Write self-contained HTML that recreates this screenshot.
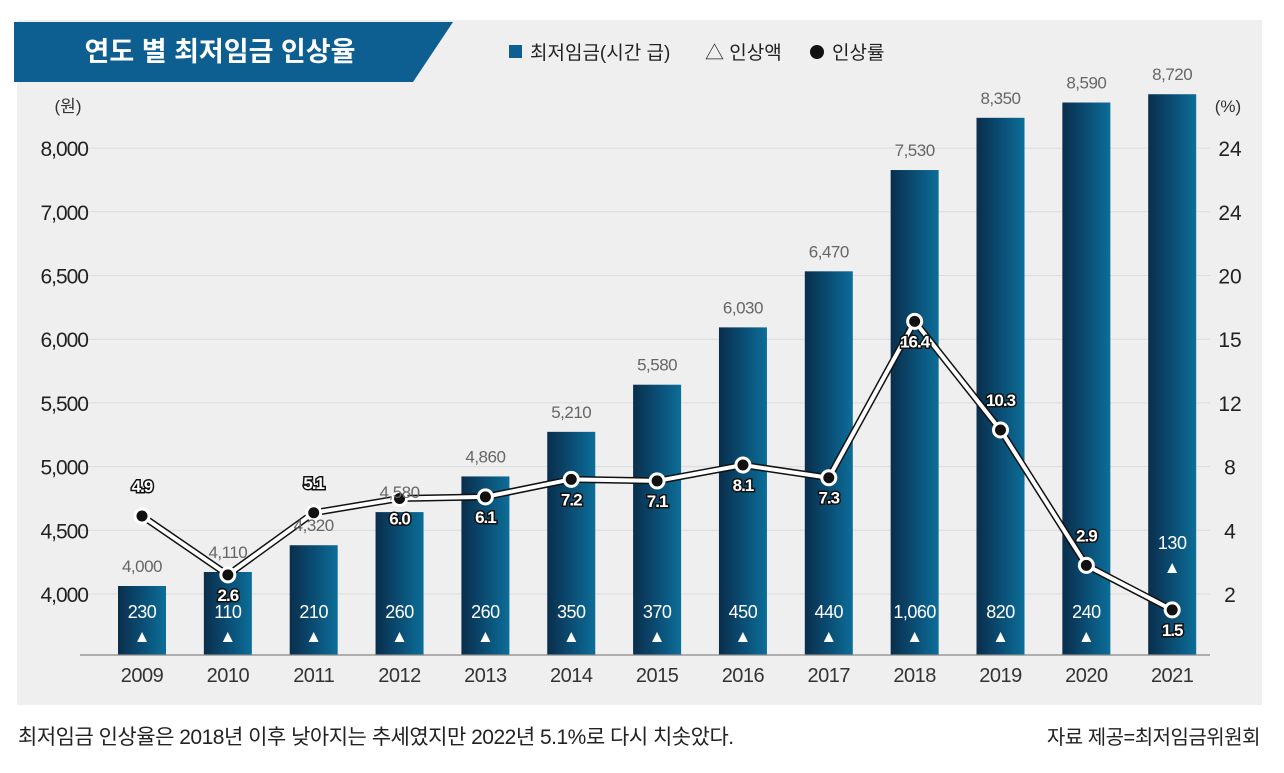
<!DOCTYPE html>
<html><head><meta charset="utf-8">
<style>
body{margin:0;width:1284px;height:773px;background:#fff;overflow:hidden;font-family:"Liberation Sans","Noto Sans CJK KR",sans-serif;}
svg{position:absolute;left:0;top:0}
text{font-family:"Liberation Sans","Noto Sans CJK KR",sans-serif}
</style></head><body>
<svg width="1284" height="773">
<defs>
<linearGradient id="bg" x1="0" x2="1" y1="0" y2="0"><stop offset="0" stop-color="#0a2e4c"/><stop offset="0.5" stop-color="#0a4d74"/><stop offset="1" stop-color="#0c6e98"/></linearGradient>
</defs>
<rect x="17" y="20" width="1245" height="685" fill="#efefef"/>
<polygon points="14,22 453,22 413,82 14,82" fill="#0d5f91"/>
<text x="220" y="61" font-size="27" font-weight="bold" fill="#fff" text-anchor="middle">연도 별 최저임금 인상율</text>
<g font-size="19" fill="#222">
<rect x="509" y="45" width="13" height="13" fill="#0d5f91"/>
<text x="530" y="59">최저임금(시간 급)</text>
<text x="705" y="59">△ 인상액</text>
<circle cx="817" cy="52" r="7" fill="#111"/>
<text x="832" y="59">인상률</text>
</g>
<text x="68" y="112" font-size="17" fill="#333" text-anchor="middle">(원)</text>
<text x="1228" y="112" font-size="17" fill="#333" text-anchor="middle">(%)</text>
<g id="grid"></g><g id="bars"></g><g id="line"></g><g id="labels"></g>
<line x1="80" x2="1210" y1="655" y2="655" stroke="#888" stroke-width="1.2"/>
<text x="18" y="744" font-size="21" fill="#222" letter-spacing="-0.5">최저임금 인상율은 2018년 이후 낮아지는 추세였지만 2022년 5.1%로 다시 치솟았다.</text>
<text x="1260" y="744" font-size="20" fill="#222" text-anchor="end" letter-spacing="-0.5">자료 제공=최저임금위원회</text>
</svg>
<script>
const years=["2009","2010","2011","2012","2013","2014","2015","2016","2017","2018","2019","2020","2021"];
const wages=[4000,4110,4320,4580,4860,5210,5580,6030,6470,7530,8350,8590,8720];
const increases=[230,110,210,260,260,350,370,450,440,1060,820,240,130];
const rates=[4.9,2.6,5.1,6.0,6.1,7.2,7.1,8.1,7.3,16.4,10.3,2.9,1.5];
const leftTicks=[4000,4500,5000,5500,6000,6500,7000,8000];
const leftTickLabels=["4,000","4,500","5,000","5,500","6,000","6,500","7,000","8,000"];
const rightTicks=[2,4,8,12,15,20,24,28];
const rightTickLabels=["2","4","8","12","15","20","24","24"];
const rateLabelAbove=[1,0,1,0,0,0,0,0,0,0,1,1,0];
const NS="http://www.w3.org/2000/svg";
const tickY=i=>594-i*63.7;
function piece(v,ticks){
  let i=0;while(i<ticks.length-2&&v>ticks[i+1])i++;
  if(v<ticks[0])i=0;
  const t=(v-ticks[i])/(ticks[i+1]-ticks[i]);
  return tickY(i)+t*(tickY(i+1)-tickY(i));
}
const yL=v=>piece(v,leftTicks)-8;
const yR=v=>piece(v,rightTicks);
const xC=i=>142+i*85.85;
function mk(tag,attrs,parent,txt){const e=document.createElementNS(NS,tag);for(const k in attrs)e.setAttribute(k,attrs[k]);if(txt!==undefined)e.textContent=txt;document.getElementById(parent).appendChild(e);return e;}
leftTicks.forEach((t,i)=>{
  const y=tickY(i);
  let g=mk("line",{x1:80,x2:1210,y1:y,y2:y,stroke:"#dcdcdc","stroke-width":1},"grid");
  
  
  let l=mk("text",{x:88,y:y+8,"font-size":21,fill:"#222","text-anchor":"end","letter-spacing":"-1"},"grid",leftTickLabels[i]);
  
  
  let r=mk("text",{x:1230,y:y+8,"font-size":21,fill:"#222","text-anchor":"middle"},"grid",rightTickLabels[i]);
  
  
});
years.forEach((yr,i)=>{
  const x=xC(i),top=yL(wages[i]);
  let b=mk("rect",{x:x-24,y:top,width:48,height:655-top,fill:"url(#bg)"},"bars");
  
  
  let wl=mk("text",{x:x,y:top-14,"font-size":17,fill:"#666","text-anchor":"middle","letter-spacing":"-0.5"},"labels",wages[i].toLocaleString("en-US"));
  
  
  let xl=mk("text",{x:x,y:682,"font-size":20,fill:"#333","text-anchor":"middle","letter-spacing":"-0.5"},"labels",yr);
  
  
  const iy=i===years.length-1?549:618;
  let il=mk("text",{x:x,y:iy,"font-size":18,fill:"#fff","text-anchor":"middle","letter-spacing":"-0.5"},"labels",increases[i].toLocaleString("en-US"));
  
  
  let tr=mk("text",{x:x,y:iy+24,"font-size":17,fill:"#fff","text-anchor":"middle"},"labels","▲");
  
  
});
const pts=rates.map((r,i)=>xC(i)+","+yR(r)).join(" ");
let lo=mk("polyline",{points:pts,fill:"none",stroke:"#111","stroke-width":7,"stroke-linejoin":"round"},"line");


let li=mk("polyline",{points:pts,fill:"none",stroke:"#fff","stroke-width":4,"stroke-linejoin":"round"},"line");


rates.forEach((r,i)=>{
  const x=xC(i),y=yR(r);
  let c=mk("circle",{cx:x,cy:y,r:7,fill:"#111",stroke:"#fff","stroke-width":3},"line");
  
  
  const ly=rateLabelAbove[i]?y-24:y+26;
  let t=mk("text",{x:x,y:ly,"font-size":17,"font-weight":"bold",fill:"#fff",stroke:"#111","stroke-width":3,"paint-order":"stroke","text-anchor":"middle","letter-spacing":"-1"},"line",r.toFixed(1));
  
  
});
</script>
</body></html>
